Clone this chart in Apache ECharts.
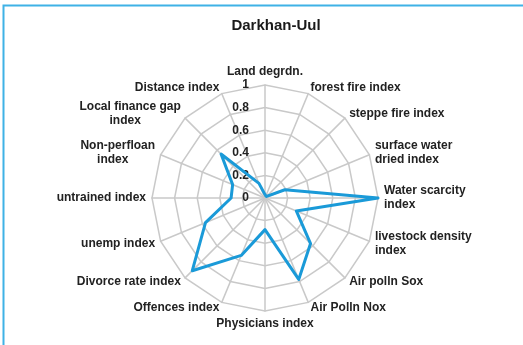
<!DOCTYPE html>
<html>
<head>
<meta charset="utf-8">
<style>
  html, body { margin: 0; padding: 0; background: #ffffff; }
  #chart { width: 523px; height: 345px; }
</style>
<script src="https://cdn.jsdelivr.net/npm/echarts@6/dist/echarts.min.js"></script>
</head>
<body>
<div id="chart"></div>
<script>
// Indicators, listed counter-clockwise starting from the top spoke
// (trailing spaces keep the short second line centred under right-aligned names)
const indicatorNames = [
  'Land degrdn.',
  'Distance index',
  'Local finance gap\nindex            ',
  'Non-perfloan\nindex        ',
  'untrained index',
  'unemp index',
  'Divorce rate index',
  'Offences index',
  'Physicians index',
  'Air Polln Nox',
  'Air polln Sox',
  'livestock density\nindex',
  'Water scarcity\nindex',
  'surface water\ndried index',
  'steppe fire index',
  'forest fire index'
];

// Index values for Darkhan-Uul, same order as the indicators
const darkhanValues = [
  0.03, 0.14, 0.55, 0.31, 0.30, 0.57, 0.91, 0.55,
  0.28, 0.78, 0.57, 0.30, 1.00, 0.19, 0.02, 0.02
];

const axisMax = 1;
const titleText = 'Darkhan-Uul';

const chart = echarts.init(document.getElementById('chart'), null, { renderer: 'canvas' });

const indicators = indicatorNames.map((name, i) => {
  const ind = { name: name, min: 0, max: axisMax };
  if (i === 0) {
    ind.axisLabel = { show: true };
  }
  return ind;
});

chart.setOption({
  backgroundColor: '#ffffff',
  animation: false,
  title: {
    text: titleText,
    left: 271,
    top: 13,
    textAlign: 'center',
    textStyle: {
      fontFamily: 'Liberation Sans, Arial, sans-serif',
      fontSize: 15,
      fontWeight: 'bold',
      color: '#1a1a1a'
    }
  },
  graphic: [
    {
      type: 'polyline',
      shape: { points: [[3.5, 345], [3.5, 5.5], [523, 5.5]] },
      style: { stroke: '#3fb2e6', lineWidth: 2, fill: null },
      silent: true
    }
  ],
  radar: {
    center: [265, 198],
    radius: 113,
    startAngle: 90,
    splitNumber: 5,
    shape: 'polygon',
    nameGap: 6,
    axisName: {
      fontFamily: 'Liberation Sans, Arial, sans-serif',
      fontSize: 12,
      fontWeight: 'bold',
      color: '#222222',
      lineHeight: 14
    },
    axisLine: { lineStyle: { color: '#c9c9c9', width: 1.5 } },
    splitLine: { lineStyle: { color: '#c9c9c9', width: 1.5 } },
    splitArea: { show: false },
    axisTick: { show: false },
    axisLabel: {
      show: false,
      fontFamily: 'Liberation Sans, Arial, sans-serif',
      fontSize: 12,
      fontWeight: 'bold',
      color: '#222222',
      margin: 16,
      formatter: v => String(Math.round(v * 10) / 10)
    },
    indicator: indicators
  },
  series: [
    {
      type: 'radar',
      symbol: 'none',
      lineStyle: { color: '#1a9ad8', width: 3 },
      data: [{ value: darkhanValues, name: titleText }]
    }
  ]
});
</script>
</body>
</html>
